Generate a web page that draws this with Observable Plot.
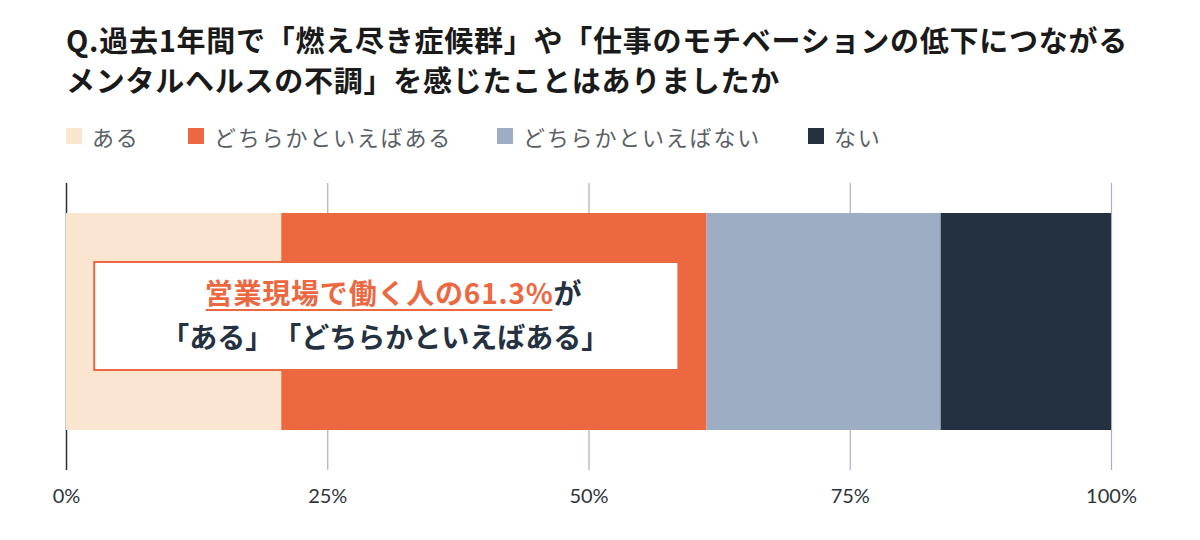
<!DOCTYPE html>
<html><head><meta charset="utf-8">
<script src="https://cdn.jsdelivr.net/npm/d3@7"></script>
<script src="https://cdn.jsdelivr.net/npm/@observablehq/plot@0.6"></script>
<style>
html,body{margin:0;padding:0;background:#fff;text-spacing-trim:space-all;}
#wrap{position:relative;width:1200px;height:540px;overflow:hidden;}
#title{position:absolute;left:66px;top:19px;font-family:"Noto Sans CJK JP",sans-serif;font-weight:700;font-size:29px;line-height:40px;color:#1a1a1a;white-space:nowrap;letter-spacing:0.75px;}
.leg{position:absolute;top:122px;height:28px;display:flex;align-items:center;font-family:"Noto Sans CJK JP",sans-serif;font-size:22px;letter-spacing:1.8px;color:#5a5f66;white-space:nowrap;}
.leg span.sw{display:inline-block;width:16px;height:16px;margin-right:10px;}
#chart{position:absolute;left:0;top:160px;}
svg text{text-spacing-trim:space-all;}
</style></head>
<body><div id="wrap">
<div id="title"></div>
<div id="legend"></div>
<div id="chart"></div>
</div>
<script>
const titleLines = ["Q.過去1年間で「燃え尽き症候群」や「仕事のモチベーションの低下につながる", "メンタルヘルスの不調」を感じたことはありましたか"];
const categories = ["ある", "どちらかといえばある", "どちらかといえばない", "ない"];
const values = [20.6, 40.7, 22.4, 16.3];
const colors = ["#F9E5D0", "#EC6841", "#9DAEC4", "#243141"];
const ticks = [0, 25, 50, 75, 100];
const group = "営業現場";
const annoLine1 = "営業現場で働く人の61.3%";
const annoLine1b = "が";
const annoLine2 = "「ある」「どちらかといえばある」";
const annoBox = [{x1: 2.7, x2: 58.6}];

document.getElementById("title").innerHTML = titleLines.join("<br>");
const legLefts = [66, 188, 497, 808];
const legend = document.getElementById("legend");
categories.forEach((c, i) => {
  const d = document.createElement("div");
  d.className = "leg";
  d.style.left = legLefts[i] + "px";
  d.innerHTML = `<span class="sw" style="background:${colors[i]}"></span>${c}`;
  legend.appendChild(d);
});

const rows = categories.map((c, i) => ({group, answer: c, value: values[i]}));
const jp = "'Noto Sans CJK JP', sans-serif";

const plot = Plot.plot({
  width: 1200,
  height: 380,
  marginLeft: 66,
  marginRight: 89,
  marginTop: 23,
  marginBottom: 70,
  style: {fontFamily: "Lato, 'Noto Sans CJK JP', sans-serif", background: "#fff"},
  x: {domain: [0, 100]},
  y: {type: "band", domain: [group], padding: 0, axis: null},
  color: {domain: categories, range: colors},
  marks: [
    Plot.ruleX(ticks.slice(1), {stroke: "#a7b1bf", strokeWidth: 1.2}),
    Plot.ruleX([0], {stroke: "#2a2f36", strokeWidth: 1.5}),
    Plot.barX(rows, Plot.stackX({x: "value", y: "group", fill: "answer", order: categories, insetTop: 30, insetBottom: 40, insetLeft: 0, insetRight: 0})),
    Plot.barX(annoBox, {x1: "x1", x2: "x2", y: () => group, insetTop: 79, insetBottom: 100, fill: "#fff", stroke: "#EC6841", strokeWidth: 2}),
    Plot.text([group], {x: 46.6, y: d => d, text: () => annoLine1, textAnchor: "end", dy: -32, fill: "#EC6841", fontSize: 28, fontWeight: 700, fontFamily: jp}),
    Plot.text([group], {x: 46.6, y: d => d, text: () => annoLine1b, textAnchor: "start", dy: -32, fill: "#253141", fontSize: 28, fontWeight: 700, fontFamily: jp}),
    Plot.text([group], {x: 30.5, y: d => d, text: () => annoLine2, textAnchor: "middle", dy: 12, fill: "#253141", fontSize: 28, fontWeight: 700, fontFamily: jp}),
    Plot.axisX(ticks, {tickSize: 0, tickPadding: 18, tickFormat: d => d + "%", fontSize: 20, fill: "#2f343b", label: null})
  ]
});
document.getElementById("chart").appendChild(plot);
d3.select(plot).selectAll("text").filter(function() { return this.textContent === annoLine1; }).each(function() {
  this.setAttribute("letter-spacing", "0.8");
  const b = this.getBBox();
  const g = this.parentNode;
  const line = document.createElementNS("http://www.w3.org/2000/svg", "line");
  const t = this.getAttribute("transform");
  if (t) line.setAttribute("transform", t);
  line.setAttribute("x1", b.x + 1);
  line.setAttribute("x2", b.x + b.width - 1);
  line.setAttribute("y1", b.y + b.height - 2);
  line.setAttribute("y2", b.y + b.height - 2);
  line.setAttribute("stroke", "#EC6841");
  line.setAttribute("stroke-width", 2);
  g.appendChild(line);
});
</script>
</body></html>
